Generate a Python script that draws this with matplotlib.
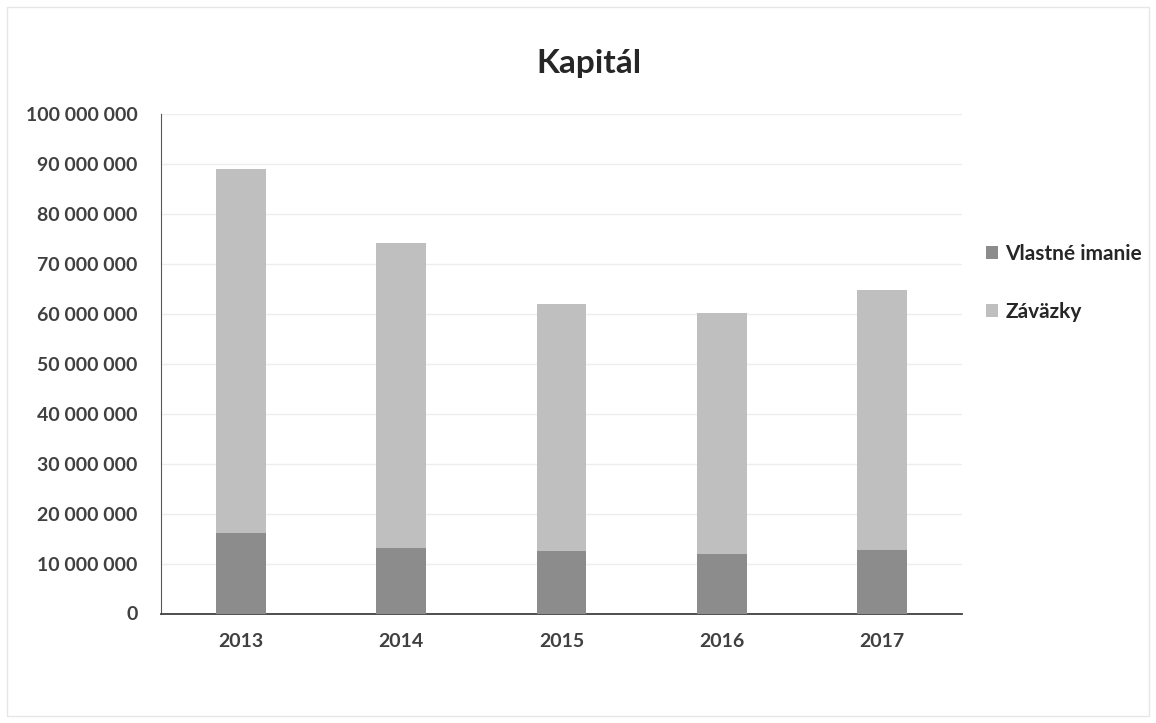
import numpy as np
import matplotlib.pyplot as plt
from matplotlib.patches import Rectangle

plt.rcParams['font.family'] = ['Lato', 'DejaVu Sans']

# data (odčítané z grafu)
years = ['2013', '2014', '2015', '2016', '2017']
vlastne_imanie = np.array([16.2, 13.1, 12.5, 12.0, 12.8]) * 1e6
zavazky = np.array([72.8, 61.1, 49.5, 48.2, 52.0]) * 1e6
yticks = np.arange(0, 100_000_001, 10_000_000)

c_vi = '#8c8c8c'
c_zav = '#bfbfbf'
txt = '#404040'

fig = plt.figure(figsize=(11.56, 7.23), dpi=100)
fig.patches.append(Rectangle((0.006, 0.01), 0.988, 0.98, transform=fig.transFigure,
                             fill=False, edgecolor='#e6e6e6', linewidth=1))
ax = fig.add_axes([161 / 1156, 1 - 613.5 / 723, 801 / 1156, 499.5 / 723])

x = np.arange(len(years))
ax.bar(x, vlastne_imanie, width=0.31, color=c_vi, label='Vlastné imanie', zorder=3)
ax.bar(x, zavazky, width=0.31, bottom=vlastne_imanie, color=c_zav, label='Záväzky', zorder=3)

ax.set_xlim(-0.5, 4.5)
ax.set_ylim(0, 100_000_000)
ax.set_xticks(x)
ax.set_xticklabels(years)
ax.set_yticks(yticks)
ax.set_yticklabels([f'{v:,}'.replace(',', ' ') for v in yticks])
ax.tick_params(axis='both', length=0, labelsize=14, colors=txt)
ax.tick_params(axis='y', pad=17)
ax.tick_params(axis='x', pad=14)
for lab in ax.get_xticklabels() + ax.get_yticklabels():
    lab.set_fontweight('bold')

ax.grid(axis='y', color='#ededed', linewidth=1, zorder=0)
for s in ['top', 'right']:
    ax.spines[s].set_visible(False)
ax.spines['left'].set_color('#595959')
ax.spines['bottom'].set_color('#404040')
ax.spines['bottom'].set_linewidth(1.3)

fig.text(589 / 1156, 1 - 63 / 723, 'Kapitál', ha='center', va='center',
         fontsize=24, fontweight='bold', color='#262626')

leg = ax.legend(loc='center left', bbox_to_anchor=(1.03, 0.662), frameon=False,
                handlelength=0.58, handleheight=0.58, handletextpad=0.34,
                labelspacing=1.8, borderpad=0, borderaxespad=0,
                prop={'size': 15, 'weight': 'bold'})
for t in leg.get_texts():
    t.set_color('#262626')

fig.savefig('out.png', dpi=100)
